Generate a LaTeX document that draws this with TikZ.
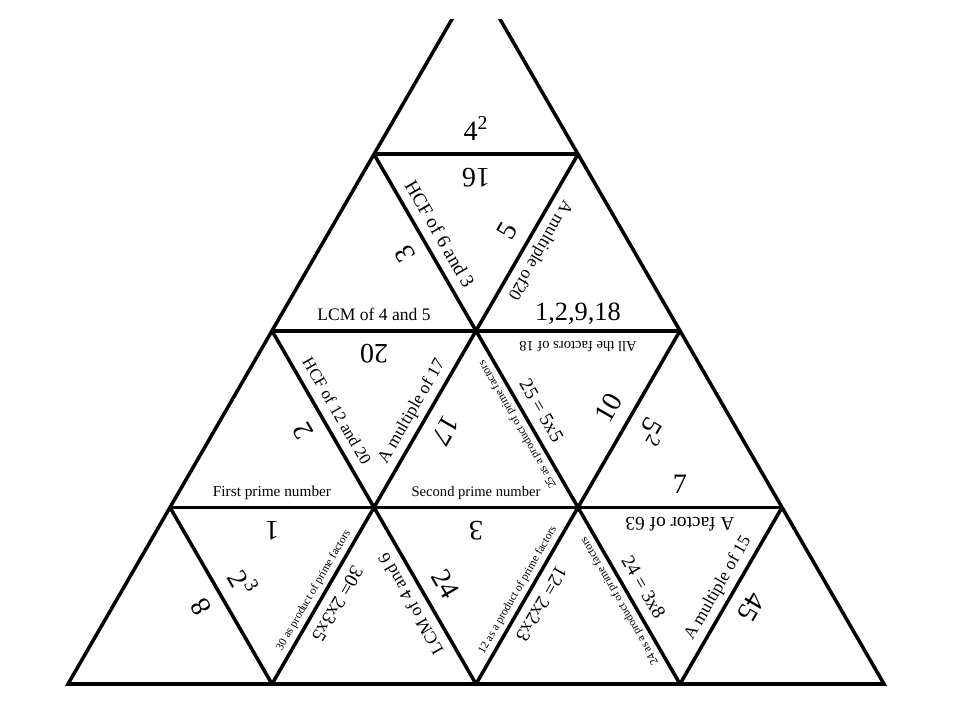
\documentclass[tikz,border=0pt]{standalone}
\usepackage{fontspec}
\setmainfont{Liberation Serif}
\usetikzlibrary{calc}

\begin{document}
\begin{tikzpicture}[line width=2pt,
        bignum/.style={font=\fontsize{16}{18}\selectfont, inner sep=7pt},
        clue/.style={font=\fontsize{10}{12}\selectfont, inner sep=5pt},
        tinyclue/.style={font=\fontsize{6.5}{8}\selectfont, inner sep=3.5pt},
        facing/.style={anchor=south, rotate=#1, text depth=0pt}]
        \useasboundingbox (0,0) rectangle (19.2,14.4);

        % corners of the small triangles, row by row
        \coordinate (p00) at (1.36,0.72);
        \coordinate (p10) at (5.44,0.72);
        \coordinate (p20) at (9.52,0.72);
        \coordinate (p30) at (13.60,0.72);
        \coordinate (p40) at (17.68,0.72);
        \coordinate (p01) at (3.40,4.252);
        \coordinate (p11) at (7.48,4.252);
        \coordinate (p21) at (11.56,4.252);
        \coordinate (p31) at (15.64,4.252);
        \coordinate (p02) at (5.44,7.784);
        \coordinate (p12) at (9.52,7.784);
        \coordinate (p22) at (13.60,7.784);
        \coordinate (p03) at (7.48,11.316);
        \coordinate (p13) at (11.56,11.316);
        \coordinate (p04) at (9.52,14.848);

        \begin{scope}
            \clip (0,0) rectangle (19.2,14.0);
            \draw (p00) -- (p40) -- (p04) -- cycle;
        \end{scope}
        \draw (p01) -- (p31);
        \draw (p02) -- (p22);
        \draw (p03) -- (p13);
        \draw (p10) -- (p13);
        \draw (p20) -- (p22);
        \draw (p30) -- (p31);
        \draw (p01) -- (p10);
        \draw (p02) -- (p20);
        \draw (p03) -- (p30);

        % horizontal edges
        \node[bignum, facing=0] (foursq) at ($(p03)!.5!(p13)$) {4\textsuperscript{2}};
        \node[bignum, facing=180] (sixteen) at ($(p03)!.5!(p13)$) {16};
        \node[clue, facing=0] (lcmfive) at ($(p02)!.5!(p12)$) {LCM of 4 and 5};
        \node[bignum, facing=180] (twenty) at ($(p02)!.5!(p12)$) {20};
        \node[bignum, font=\fontsize{15}{17}\selectfont, inner sep=5pt, facing=0] (factlist) at ($(p12)!.5!(p22)$) {1,2,9,18};
        \node[clue, font=\fontsize{8.3}{10}\selectfont, facing=180] (factors) at ($(p12)!.5!(p22)$) {All the factors of 18};
        \node[clue, font=\fontsize{8.7}{10}\selectfont, facing=0] (firstprime) at ($(p01)!.5!(p11)$) {First prime number};
        \node[bignum, facing=180] (one) at ($(p01)!.5!(p11)$) {1};
        \node[clue, font=\fontsize{8.3}{10}\selectfont, facing=0] (secondprime) at ($(p11)!.5!(p21)$) {Second prime number};
        \node[bignum, facing=180] (three) at ($(p11)!.5!(p21)$) {3};
        \node[bignum, facing=0] (seven) at ($(p21)!.5!(p31)$) {7};
        \node[clue, font=\fontsize{11}{13}\selectfont, facing=180] (factor) at ($(p21)!.5!(p31)$) {A factor of 63};

        % edges going down to the right
        \node[bignum, facing=120] (threeb) at ($(p03)!.5!(p12)$) {3};
        \node[clue, font=\fontsize{11}{13}\selectfont, facing=-60] (hcfsix) at ($(p03)!.5!(p12)$) {HCF of 6 and 3};
        \node[bignum, facing=120] (two) at ($(p02)!.5!(p11)$) {2};
        \node[clue, font=\fontsize{9.5}{11}\selectfont, facing=-60] (hcftwelve) at ($(p02)!.5!(p11)$) {HCF of 12 and 20};
        \node[tinyclue, facing=120] (prodtwentyfive) at ($(p12)!.5!(p21)$) {25 as a product of prime factors};
        \node[clue, font=\fontsize{11}{13}\selectfont, facing=-60] (twentyfive) at ($(p12)!.5!(p21)$) {25 = 5x5};
        \node[bignum, facing=120] (eight) at ($(p01)!.5!(p10)$) {8};
        \node[bignum, facing=-60] (twocube) at ($(p01)!.5!(p10)$) {2\textsuperscript{3}};
        \node[clue, facing=120] (lcmsix) at ($(p11)!.5!(p20)$) {LCM of 4 and 6};
        \node[bignum, facing=-60] (twentyfour) at ($(p11)!.5!(p20)$) {24};
        \node[tinyclue, facing=120] (prodtwentyfour) at ($(p21)!.5!(p30)$) {24 as a product of prime factors};
        \node[clue, font=\fontsize{11}{13}\selectfont, facing=-60] (threeeight) at ($(p21)!.5!(p30)$) {24 = 3x8};

        % edges going up to the right
        \node[bignum, facing=60] (five) at ($(p12)!.5!(p13)$) {5};
        \node[clue, facing=-120] (multtwenty) at ($(p12)!.5!(p13)$) {A multiple of20};
        \node[clue, facing=60] (multseventeen) at ($(p11)!.5!(p12)$) {A multiple of 17};
        \node[bignum, facing=-120] (seventeen) at ($(p11)!.5!(p12)$) {17};
        \node[bignum, facing=60] (ten) at ($(p21)!.5!(p22)$) {10};
        \node[bignum, facing=-120] (fivesq) at ($(p21)!.5!(p22)$) {5\textsuperscript{2}};
        \node[tinyclue, facing=60] (prodthirty) at ($(p10)!.5!(p11)$) {30 as product of prime factors};
        \node[clue, font=\fontsize{11}{13}\selectfont, facing=-120] (thirty) at ($(p10)!.5!(p11)$) {30= 2x3x5};
        \node[tinyclue, facing=60] (prodtwelve) at ($(p20)!.5!(p21)$) {12 as a product of prime factors};
        \node[clue, font=\fontsize{11}{13}\selectfont, facing=-120] (twelve) at ($(p20)!.5!(p21)$) {12= 2x2x3};
        \node[clue, facing=60] (multfifteen) at ($(p30)!.5!(p31)$) {A multiple of 15};
        \node[bignum, facing=-120] (fortyfive) at ($(p30)!.5!(p31)$) {45};
\end{tikzpicture}
\end{document}
